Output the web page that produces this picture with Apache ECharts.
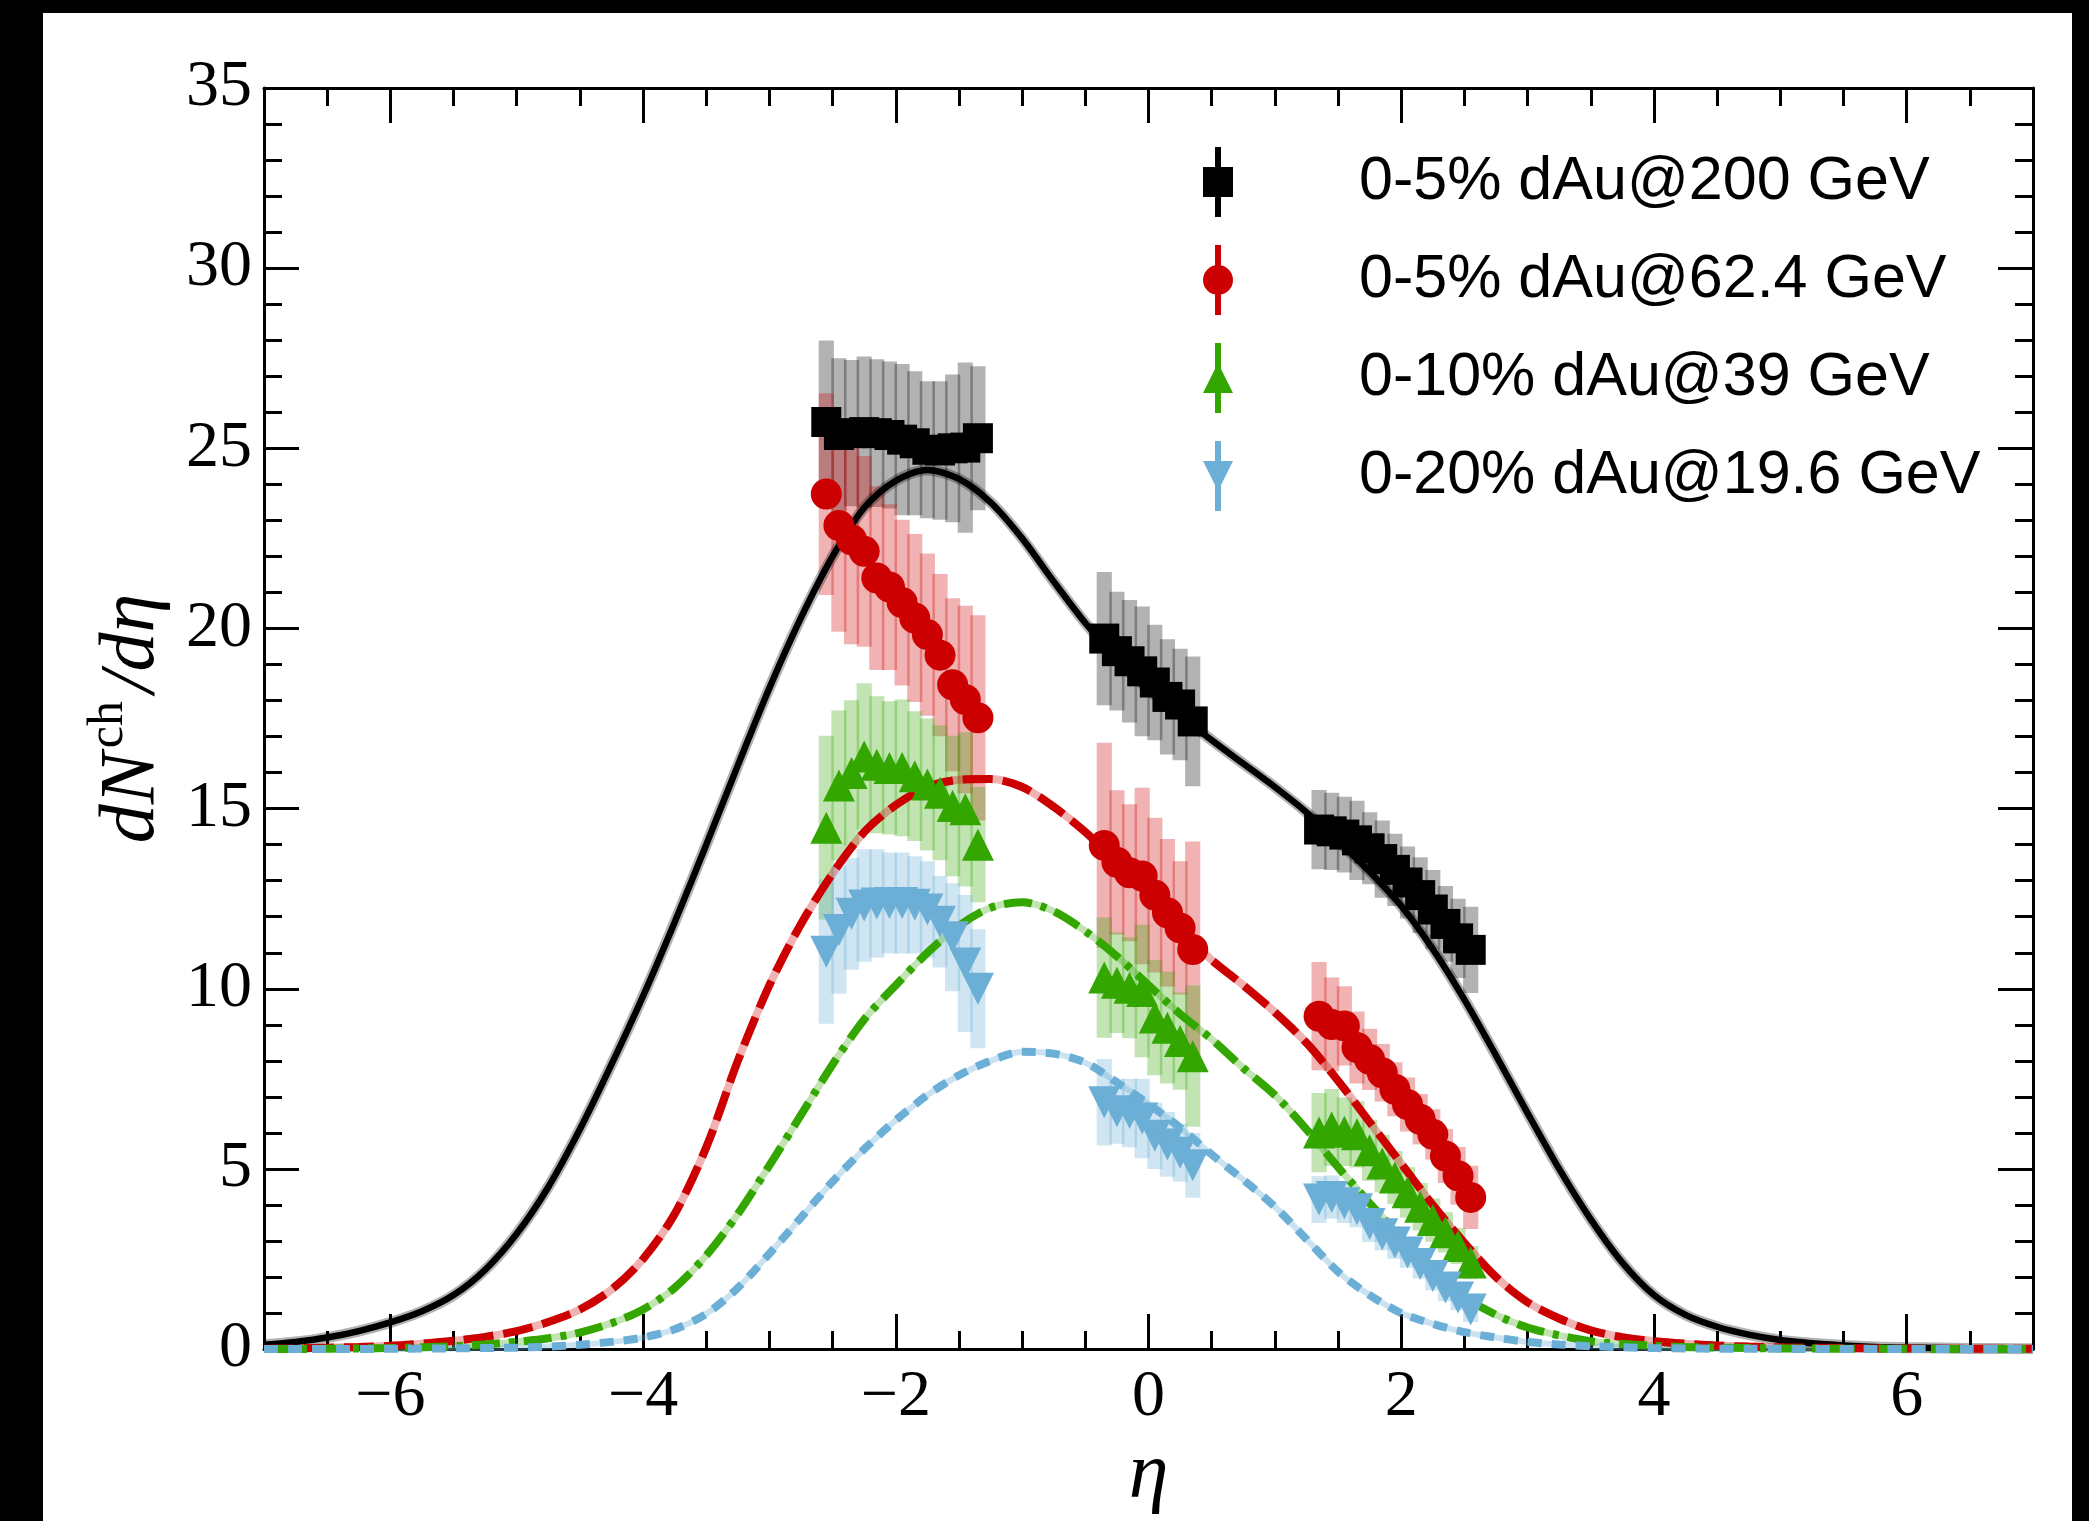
<!DOCTYPE html>
<html>
<head>
<meta charset="utf-8">
<script src="https://cdn.jsdelivr.net/npm/echarts@6.0.0/dist/echarts.min.js"></script>
<style>
  html, body { margin: 0; padding: 0; background: #fff; }
  #chart { width: 2089px; height: 1521px; }
</style>
</head>
<body>
<div id="chart"></div>
<script>
// pseudorapidity bins of the measured points (three detector groups)
const eta = [-2.55, -2.45, -2.35, -2.25, -2.15, -2.05, -1.95, -1.85, -1.75, -1.65, -1.55, -1.45, -1.35,
  -0.35, -0.25, -0.15, -0.05, 0.05, 0.15, 0.25, 0.35,
  1.35, 1.45, 1.55, 1.65, 1.75, 1.85, 1.95, 2.05, 2.15, 2.25, 2.35, 2.45, 2.55]

// measured dN/deta and systematic errors
const au200 = [25.73, 25.37, 25.42, 25.45, 25.42, 25.37, 25.24, 25.14, 24.96, 24.94, 25.0, 25.02, 25.28,
  19.72, 19.37, 19.09, 18.81, 18.5, 18.1, 17.89, 17.42,
  14.42, 14.37, 14.28, 14.12, 13.9, 13.6, 13.3, 12.95, 12.6, 12.2, 11.8, 11.4, 11.08]
const au200Err = [2.26, 2.13, 2.03, 2.1, 2.05, 2.04, 2.1, 2.0, 1.9, 1.92, 2.05, 2.36, 2.0,
  1.85, 1.65, 1.7, 1.8, 1.6, 1.6, 1.55, 1.8,
  1.1, 1.07, 1.05, 1.1, 1.0, 1.07, 1.0, 1.0, 1.05, 1.1, 1.05, 1.1, 1.2]

const au62 = [23.73, 22.86, 22.46, 22.14, 21.4, 21.15, 20.72, 20.29, 19.83, 19.26, 18.44, 18.03, 17.52,
  13.98, 13.51, 13.22, 13.13, 12.6, 12.11, 11.69, 11.09,
  9.24, 9.01, 8.97, 8.37, 8.04, 7.67, 7.21, 6.79, 6.38, 5.96, 5.36, 4.81, 4.21]
const au62Err = [2.8, 2.95, 2.9, 2.65, 2.55, 2.3, 2.3, 2.33, 2.25, 2.25, 2.4, 2.6, 2.85,
  2.85, 2.0, 1.9, 2.45, 2.15, 2.05, 1.85, 3.0,
  1.5, 1.3, 1.1, 1.0, 0.85, 0.8, 0.75, 0.75, 0.7, 0.7, 0.75, 0.8, 0.88]

const au39 = [14.47, 15.64, 15.99, 16.45, 16.22, 16.13, 16.13, 15.9, 15.67, 15.44, 15.07, 14.98, 14.0,
  10.31, 10.17, 10.03, 9.94, 9.2, 8.92, 8.55, 8.13,
  6.01, 6.15, 6.03, 5.96, 5.52, 5.15, 4.76, 4.35, 3.95, 3.58, 3.24, 2.86, 2.4]
const au39Err = [2.55, 2.08, 2.02, 2.03, 1.9, 1.85, 1.9, 1.8, 1.83, 1.87, 1.95, 2.14, 1.6,
  1.67, 1.4, 1.4, 1.84, 1.6, 1.55, 1.35, 1.96,
  1.1, 1.07, 0.95, 0.92, 0.85, 0.8, 0.74, 0.7, 0.66, 0.6, 0.56, 0.5, 0.46]

const au19 = [11.03, 11.63, 12.08, 12.31, 12.37, 12.38, 12.38, 12.33, 12.2, 11.86, 11.43, 10.7, 10.0,
  6.85, 6.6, 6.55, 6.4, 5.92, 5.68, 5.45, 5.1,
  4.15, 4.22, 4.05, 3.88, 3.47, 3.19, 2.96, 2.68, 2.36, 2.03, 1.71, 1.43, 1.1]
const au19Err = [2.0, 1.77, 1.55, 1.56, 1.5, 1.4, 1.4, 1.35, 1.34, 1.27, 1.5, 1.9, 1.65,
  1.2, 0.9, 0.95, 1.1, 0.92, 0.9, 0.8, 0.9,
  0.65, 0.6, 0.55, 0.5, 0.5, 0.45, 0.45, 0.42, 0.4, 0.4, 0.38, 0.35, 0.35]

// model curves, read every 0.25 in eta
const curveEta = [-7, -6.75, -6.5, -6.25, -6, -5.75, -5.5, -5.25, -5, -4.75, -4.5, -4.25, -4, -3.75, -3.5, -3.25,
  -3, -2.75, -2.5, -2.25, -2, -1.75, -1.5, -1.25, -1, -0.75, -0.5, -0.25, 0, 0.25, 0.5, 0.75, 1, 1.25,
  1.5, 1.75, 2, 2.25, 2.5, 2.75, 3, 3.25, 3.5, 3.75, 4, 4.25, 4.5, 4.75, 5, 5.25, 5.5, 5.75, 6, 6.25,
  6.5, 6.75, 7]
const curve200 = [0.12, 0.2, 0.32, 0.5, 0.74, 1.05, 1.5, 2.2, 3.2, 4.5, 6.1, 7.9, 9.8, 11.85, 14.0, 16.2,
  18.35, 20.3, 22.0, 23.35, 24.1, 24.4, 24.15, 23.5, 22.5, 21.3, 20.15, 19.15, 18.3, 17.6, 16.9, 16.25, 15.6, 14.9,
  14.1, 13.25, 12.3, 11.1, 9.7, 8.15, 6.55, 5.0, 3.6, 2.4, 1.5, 0.95, 0.62, 0.4, 0.25, 0.16, 0.1, 0.06, 0.04, 0.03,
  0.02, 0.015, 0.01]
const curve62 = [0.01, 0.02, 0.04, 0.06, 0.09, 0.15, 0.23, 0.34, 0.5, 0.75, 1.1, 1.65, 2.5, 3.75, 5.6, 8.0,
  10.1, 11.8, 13.2, 14.35, 15.1, 15.6, 15.8, 15.82, 15.6, 15.05, 14.35, 13.5, 12.6, 11.65, 10.8, 10.1, 9.35, 8.5,
  7.45, 6.3, 5.15, 4.0, 2.95, 2.0, 1.3, 0.85, 0.52, 0.33, 0.22, 0.15, 0.1, 0.07, 0.05, 0.04, 0.03, 0.02, 0.02, 0.01,
  0.01, 0.01, 0.01]
const curve39 = [0, 0, 0.01, 0.02, 0.03, 0.05, 0.08, 0.13, 0.2, 0.3, 0.46, 0.72, 1.1, 1.7, 2.6, 3.75,
  5.1, 6.5, 7.9, 9.15, 10.1, 11.0, 11.75, 12.25, 12.4, 12.15, 11.6, 10.9, 10.1, 9.3, 8.6, 7.8, 7.05, 6.1,
  5.05, 4.05, 3.1, 2.2, 1.45, 0.95, 0.6, 0.38, 0.22, 0.14, 0.09, 0.06, 0.04, 0.03, 0.02, 0.015, 0.01, 0.01, 0.01, 0,
  0, 0, 0]
const curve19 = [0, 0, 0, 0, 0.01, 0.015, 0.02, 0.03, 0.04, 0.07, 0.12, 0.2, 0.32, 0.55, 0.98, 1.7,
  2.65, 3.65, 4.65, 5.55, 6.35, 7.05, 7.6, 8.0, 8.25, 8.2, 7.95, 7.4, 6.8, 6.15, 5.4, 4.7, 3.95, 3.05,
  2.15, 1.5, 1.0, 0.7, 0.47, 0.32, 0.2, 0.13, 0.08, 0.05, 0.03, 0.02, 0.01, 0.01, 0.01, 0, 0, 0, 0, 0,
  0, 0, 0]

// axis ticks
const xMajor = [-6, -4, -2, 0, 2, 4, 6]
const xMinor = [-6.5, -5.5, -5, -4.5, -3.5, -3, -2.5, -1.5, -1, -0.5, 0.5, 1, 1.5, 2.5, 3, 3.5, 4.5, 5, 5.5, 6.5]

const names = ['0-5% dAu@200 GeV', '0-5% dAu@62.4 GeV', '0-10% dAu@39 GeV', '0-20% dAu@19.6 GeV']
const colors = ['#000000', '#cc0000', '#33a600', '#6baed6']
const bandColors = ['rgba(0,0,0,0.3)', 'rgba(204,0,0,0.3)', 'rgba(51,166,0,0.3)', 'rgba(107,174,214,0.32)']

const barHalf = 0.06
const serif = 'Liberation Serif'

function pairs (xs, ys) {
  return xs.map((x, i) => [x, ys[i]])
}

function errorBoxes (vals, errs, fill) {
  return {
    type: 'custom',
    silent: true,
    z: 1,
    encode: {x: 0, y: 1},
    data: eta.map((x, i) => [x, vals[i], errs[i]]),
    renderItem: function (params, api) {
      const x = api.value(0), y = api.value(1), e = api.value(2)
      const p1 = api.coord([x - barHalf, y + e])
      const p2 = api.coord([x + barHalf, y - e])
      return {
        type: 'rect',
        shape: {x: p1[0], y: p1[1], width: p2[0] - p1[0], height: p2[1] - p1[1]},
        style: {fill: fill}
      }
    }
  }
}

function band (vals, color, width) {
  return {
    type: 'line', silent: true, z: 2, showSymbol: false, smooth: 0.3,
    data: pairs(curveEta, vals),
    lineStyle: {color: color, width: width}
  }
}

function curve (vals, color, width, dash) {
  return {
    type: 'line', silent: true, z: 3, showSymbol: false, smooth: 0.3,
    data: pairs(curveEta, vals),
    lineStyle: {color: color, width: width, type: dash, cap: 'butt'}
  }
}

function points (name, vals, color, symbol, size, rotate) {
  return {
    name: name, type: 'scatter', z: 4, symbol: symbol, symbolSize: size, symbolRotate: rotate || 0,
    data: pairs(eta, vals),
    itemStyle: {color: color, opacity: 1}
  }
}

const minusFmt = v => (v < 0 ? '\u2212' + Math.abs(v) : String(v))

function xAxisPart (position, ticks, len, withLine, withLabel) {
  return {
    type: 'value', position: position, min: -7, max: 7,
    splitLine: {show: false},
    axisLine: {show: withLine, onZero: false, lineStyle: {color: '#000', width: 3}},
    axisTick: {show: true, inside: true, length: len, customValues: ticks, lineStyle: {color: '#000', width: 3}},
    axisLabel: withLabel
      ? {show: true, customValues: xMajor, formatter: minusFmt, fontFamily: serif, fontSize: 66, color: '#000', margin: 16}
      : {show: false}
  }
}

function yAxisPart (position, withLabel) {
  return {
    type: 'value', position: position, min: 0, max: 35, interval: 5,
    splitLine: {show: false},
    axisLine: {show: true, onZero: false, lineStyle: {color: '#000', width: 3}},
    axisTick: {show: true, inside: true, length: 35, lineStyle: {color: '#000', width: 3}},
    minorTick: {show: true, splitNumber: 5, length: 18, lineStyle: {color: '#000', width: 3}},
    axisLabel: withLabel
      ? {show: true, fontFamily: serif, fontSize: 66, color: '#000', margin: 12, showMinLabel: true, showMaxLabel: true}
      : {show: false}
  }
}

const xAxes = [
  xAxisPart('bottom', xMajor, 35, true, true),
  xAxisPart('bottom', xMinor, 18, false, false),
  xAxisPart('top', xMajor, 35, true, false),
  xAxisPart('top', xMinor, 18, false, false)
]
xAxes[0].name = '\u03b7'
xAxes[0].nameLocation = 'middle'
xAxes[0].nameGap = 78
xAxes[0].nameTextStyle = {fontFamily: serif, fontStyle: 'italic', fontSize: 80, color: '#000'}

const yAxes = [yAxisPart('left', true), yAxisPart('right', false)]
yAxes[0].name = '{it|dN}{sup|ch}{it|/d\u03b7}'
yAxes[0].nameLocation = 'middle'
yAxes[0].nameRotate = 90
yAxes[0].nameGap = 84
yAxes[0].nameTextStyle = {
  color: '#000',
  rich: {
    it: {fontFamily: serif, fontStyle: 'italic', fontSize: 78, lineHeight: 96, verticalAlign: 'middle', color: '#000'},
    sup: {fontFamily: serif, fontSize: 50, lineHeight: 50, verticalAlign: 'top', color: '#000', padding: [0, 8, 0, 4]}
  }
}

const legendIcons = [
  'path://M12,0H18V20H30V50H18V70H12V50H0V20H12Z',
  'path://M12,0H18V70H12Z M0,35A15,15 0 1,1 30,35A15,15 0 1,1 0,35Z',
  'path://M12,0H18V70H12Z M15,20L30,50L0,50Z',
  'path://M12,0H18V70H12Z M0,20L30,20L15,50Z'
]

const myChart = echarts.init(document.getElementById('chart'), null, {renderer: 'canvas'})

const option = {
  backgroundColor: '#ffffff',
  animation: false,
  grid: {left: 264, right: 56, top: 88, bottom: 171, containLabel: false},
  xAxis: xAxes,
  yAxis: yAxes,
  legend: {
    orient: 'vertical', left: 1198, top: 142,
    itemWidth: 30, itemHeight: 70, itemGap: 28,
    selectedMode: false,
    textStyle: {fontFamily: 'Liberation Sans', fontSize: 61, color: '#000', padding: [0, 0, 0, 121]},
    data: names.map((n, i) => ({name: n, icon: legendIcons[i]}))
  },
  graphic: [
    {type: 'rect', left: 0, top: 0, shape: {width: 43, height: 1521}, style: {fill: '#000'}},
    {type: 'rect', left: 0, top: 0, shape: {width: 2089, height: 13}, style: {fill: '#000'}},
    {type: 'rect', right: 0, top: 0, shape: {width: 17, height: 1521}, style: {fill: '#000'}}
  ],
  series: [
    errorBoxes(au200, au200Err, bandColors[0]),
    errorBoxes(au62, au62Err, bandColors[1]),
    errorBoxes(au39, au39Err, bandColors[2]),
    errorBoxes(au19, au19Err, bandColors[3]),
    band(curve200, 'rgba(0,0,0,0.3)', 11),
    band(curve62, 'rgba(204,0,0,0.3)', 8),
    band(curve39, 'rgba(51,166,0,0.3)', 7),
    band(curve19, 'rgba(107,174,214,0.35)', 6),
    curve(curve200, colors[0], 6.5, 'solid'),
    curve(curve62, colors[1], 8, [30, 10]),
    curve(curve39, colors[2], 8, [28, 9, 6, 9]),
    curve(curve19, colors[3], 8, [14, 10]),
    points(names[0], au200, colors[0], 'rect', 30),
    points(names[1], au62, colors[1], 'circle', 31),
    points(names[2], au39, colors[2], 'triangle', 32),
    points(names[3], au19, colors[3], 'triangle', 32, 180)
  ]
}

myChart.setOption(option)
</script>
</body>
</html>
